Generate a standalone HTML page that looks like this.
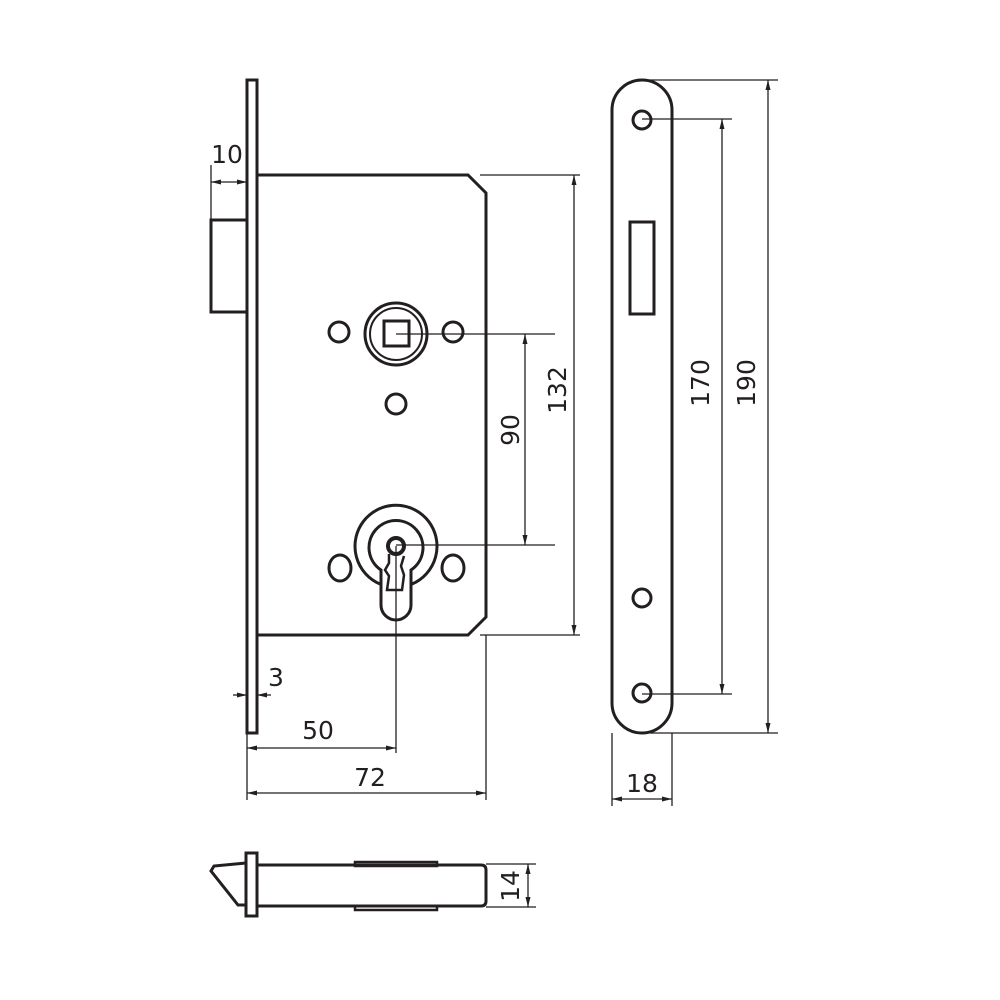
<!DOCTYPE html>
<html><head><meta charset="utf-8"><style>
html,body{margin:0;padding:0;background:#fff;}
svg{display:block;}
text{font-family:"DejaVu Sans","Liberation Sans",sans-serif;font-size:25px;fill:#231f20;}
</style></head><body>
<svg width="1000" height="1000" viewBox="0 0 1000 1000" xmlns="http://www.w3.org/2000/svg">
<defs>
<marker id="a" markerWidth="10" markerHeight="6" refX="10" refY="3" orient="auto-start-reverse" markerUnits="userSpaceOnUse"><path d="M0,0.5 L10,3 L0,5.5 Z" fill="#231f20"/></marker>
</defs>
<g fill="none" stroke="#231f20" stroke-width="3">
<!-- faceplate side -->
<rect x="247" y="80" width="10" height="653"/>
<!-- latch -->
<rect x="211" y="220" width="36" height="92"/>
<!-- body -->
<path d="M257,175 L468,175 L486,193 L486,617 L468,635 L257,635"/>
<!-- spindle -->
<circle cx="396" cy="334" r="31"/>
<circle cx="396" cy="334" r="26" stroke-width="2"/>
<rect x="384" y="321" width="25" height="25"/>
<circle cx="339" cy="332" r="10"/>
<circle cx="453" cy="332" r="10"/>
<circle cx="396" cy="404" r="10"/>
<!-- cylinder -->
<path d="M380,584 A41,41 0 1 1 412,584"/>
<path d="M381,570 A27,27 0 1 1 411,570 L411,605 A15,15 0 0 1 381,605 Z"/>
<ellipse cx="340" cy="568" rx="11" ry="13"/>
<ellipse cx="453" cy="568" rx="11" ry="13"/>
<circle cx="396" cy="546" r="8" stroke-width="4"/>
<path d="M389,554 L389,563 L385,570 L389,576 L387,590 L402,590 L404,575 L401,566 L404,556" stroke-width="2.5"/>
<!-- right faceplate -->
<rect x="612" y="80" width="60" height="653" rx="30" ry="30"/>
<rect x="630" y="222" width="24" height="92"/>
<circle cx="642" cy="120" r="9"/>
<circle cx="642" cy="598" r="9"/>
<circle cx="642" cy="693" r="9"/>
<!-- bottom view -->
<rect x="246" y="853" width="11" height="63"/>
<path d="M246,863 L214,866 L211,871 L238,905 L246,905"/>
<rect x="355" y="862" width="82" height="4" stroke-width="2.5"/>
<rect x="355" y="906" width="82" height="4" stroke-width="2.5"/>
<path d="M257,865 L481,865 Q486,865 486,870 L486,901 Q486,906 481,906 L257,906"/>
</g>
<g fill="none" stroke="#231f20" stroke-width="1.3">
<!-- 10 -->
<line x1="211" y1="165" x2="211" y2="220"/>
<line x1="211" y1="182" x2="247" y2="182" marker-start="url(#a)" marker-end="url(#a)"/>
<!-- 132 -->
<line x1="480" y1="175" x2="580" y2="175"/>
<line x1="480" y1="635" x2="580" y2="635"/>
<line x1="574" y1="175" x2="574" y2="635" marker-start="url(#a)" marker-end="url(#a)"/>
<!-- 90 -->
<line x1="396" y1="334" x2="555" y2="334"/>
<line x1="396" y1="545" x2="555" y2="545"/>
<line x1="525" y1="334" x2="525" y2="545" marker-start="url(#a)" marker-end="url(#a)"/>
<!-- 3 -->
<line x1="233" y1="695" x2="247" y2="695" marker-end="url(#a)"/>
<line x1="271" y1="695" x2="257" y2="695" marker-end="url(#a)"/>
<!-- 50 -->
<line x1="396" y1="546" x2="396" y2="753"/>
<line x1="247" y1="733" x2="247" y2="800"/>
<line x1="247" y1="748" x2="396" y2="748" marker-start="url(#a)" marker-end="url(#a)"/>
<!-- 72 -->
<line x1="486" y1="635" x2="486" y2="800"/>
<line x1="247" y1="793" x2="486" y2="793" marker-start="url(#a)" marker-end="url(#a)"/>
<!-- 170 -->
<line x1="642" y1="119" x2="732" y2="119"/>
<line x1="642" y1="694" x2="732" y2="694"/>
<line x1="722" y1="119" x2="722" y2="694" marker-start="url(#a)" marker-end="url(#a)"/>
<!-- 190 -->
<line x1="642" y1="80" x2="778" y2="80"/>
<line x1="650" y1="733" x2="778" y2="733"/>
<line x1="768" y1="80" x2="768" y2="733" marker-start="url(#a)" marker-end="url(#a)"/>
<!-- 18 -->
<line x1="612" y1="733" x2="612" y2="806"/>
<line x1="672" y1="733" x2="672" y2="806"/>
<line x1="612" y1="799" x2="672" y2="799" marker-start="url(#a)" marker-end="url(#a)"/>
<!-- 14 -->
<line x1="486" y1="864" x2="536" y2="864"/>
<line x1="486" y1="907" x2="536" y2="907"/>
<line x1="528" y1="864" x2="528" y2="907" marker-start="url(#a)" marker-end="url(#a)"/>
</g>
<text x="227" y="163" text-anchor="middle">10</text>
<text x="276" y="686" text-anchor="middle">3</text>
<text x="318" y="739" text-anchor="middle">50</text>
<text x="370" y="786" text-anchor="middle">72</text>
<text x="642" y="792" text-anchor="middle">18</text>
<text transform="translate(566,390) rotate(-90)" text-anchor="middle">132</text>
<text transform="translate(519,430) rotate(-90)" text-anchor="middle">90</text>
<text transform="translate(709,383) rotate(-90)" text-anchor="middle">170</text>
<text transform="translate(755,383) rotate(-90)" text-anchor="middle">190</text>
<text transform="translate(519,886) rotate(-90)" text-anchor="middle">14</text>
</svg>
</body></html>
